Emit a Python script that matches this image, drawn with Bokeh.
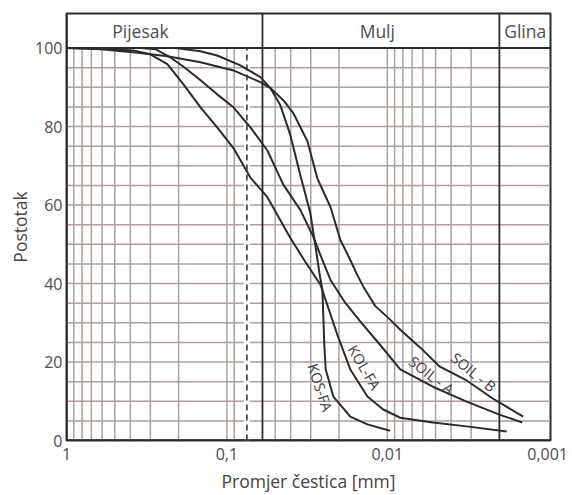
from bokeh.plotting import figure
from bokeh.models import Range1d, FixedTicker
from bokeh.core.properties import value
from bokeh.embed import file_html
from bokeh.resources import INLINE

# ---- data (particle diameter in mm, percent passing) ----
kol_fa_d = [1, 0.614, 0.383, 0.300, 0.235, 0.187, 0.146, 0.115, 0.091, 0.0714, 0.0559, 0.0402,
            0.0324, 0.0261, 0.0205, 0.0170, 0.0133, 0.0106, 0.0083, 0.0052, 0.0032, 0.0018]
kol_fa_p = [100, 99.9, 99.4, 98.4, 95.9, 90.8, 84.9, 79.8, 74.5, 67.0, 62.0, 51.6,
            45.5, 39.7, 27.0, 18.1, 11.2, 7.9, 5.8, 4.6, 3.6, 2.3]

soil_a_d = [1, 0.346, 0.279, 0.225, 0.187, 0.146, 0.115, 0.091, 0.0714, 0.0559, 0.0445, 0.0348,
            0.0289, 0.0254, 0.0226, 0.0183, 0.0147, 0.0111, 0.0083, 0.0052, 0.0032, 0.0020, 0.00144]
soil_a_p = [100, 100, 99.7, 97.6, 95.3, 91.8, 88.2, 84.9, 79.8, 73.9, 65.2, 58.7,
            51.9, 46.0, 40.9, 35.1, 30.3, 24.4, 18.1, 13.7, 9.9, 6.6, 4.6]

kos_fa_d = [1, 0.209, 0.146, 0.115, 0.0824, 0.0618, 0.0536, 0.0464, 0.0402, 0.0348, 0.0302,
            0.0281, 0.0265, 0.0254, 0.0250, 0.0247, 0.0242, 0.0217, 0.0170, 0.0133, 0.0096]
kos_fa_p = [100, 100, 99.2, 98.1, 95.6, 92.6, 89.8, 85.4, 77.8, 67.5, 58.0,
            49.8, 42.7, 38.4, 30.8, 24.4, 18.1, 11.2, 6.1, 4.1, 2.5]

soil_b_d = [1, 0.614, 0.383, 0.235, 0.146, 0.091, 0.0618, 0.0536, 0.0445, 0.0385, 0.0315, 0.0273,
            0.0226, 0.0196, 0.0170, 0.0154, 0.0141, 0.0119, 0.0096, 0.0083, 0.0062, 0.0047, 0.0032,
            0.0022, 0.00142]
soil_b_p = [100, 99.7, 98.9, 97.9, 96.4, 94.3, 91.3, 89.8, 86.7, 83.4, 76.3, 66.8,
            59.5, 51.1, 46.0, 42.2, 39.2, 34.3, 30.8, 28.2, 23.6, 18.8, 15.3, 10.7, 6.1]

series_names = ["KOS-FA", "KOL-FA", "SOIL - A", "SOIL - B"]

x_ticks = [1, 0.1, 0.01, 0.001]
x_tick_labels = ["1", "0,1", "0,01", "0,001"]
y_ticks = [0, 20, 40, 60, 80, 100]

v_grid = [0.9, 0.8, 0.7, 0.6, 0.5, 0.4, 0.3, 0.2, 0.1, 0.09, 0.05, 0.04, 0.03, 0.02,
          0.01, 0.009, 0.008, 0.007, 0.006, 0.005, 0.004, 0.003]
h_grid = [5, 10, 15, 20, 25, 30, 35, 40, 45, 50, 55, 60, 65, 70, 75, 80, 85, 90, 95]

zone_names = ["Pijesak", "Mulj", "Glina"]
zone_bounds = [0.06, 0.002]        # sand/silt, silt/clay (mm)
sieve_line = 0.075                 # dashed line (mm)

X0, X1 = 1, 0.00096
Y0, Y1 = 0, 108.8
FONT = "Open Sans"
TXT = "#4d4d4d"
GRID = "#ad9f9d"
DARK = "#2b2b2b"

p = figure(width=572, height=495, x_axis_type="log",
           x_range=Range1d(X0, X1), y_range=Range1d(Y0, Y1),
           output_backend="svg", toolbar_location=None,
           min_border_left=66, min_border_right=22, min_border_top=13, min_border_bottom=54)
p.xgrid.grid_line_color = None
p.ygrid.grid_line_color = None
p.outline_line_color = DARK
p.outline_line_width = 2
p.background_fill_color = "white"
p.border_fill_color = "white"

# grid
p.segment(x0=v_grid, y0=[0] * len(v_grid), x1=v_grid, y1=[100] * len(v_grid),
          line_color=GRID, line_width=1.5)
p.segment(x0=[X0] * len(h_grid), y0=h_grid, x1=[X1] * len(h_grid), y1=h_grid,
          line_color=GRID, line_width=1.5)

# dashed sieve line with white halo
p.segment(x0=[sieve_line], y0=[0], x1=[sieve_line], y1=[100], line_color="white", line_width=6)
p.segment(x0=[sieve_line], y0=[0], x1=[sieve_line], y1=[100], line_color=DARK,
          line_width=1.5, line_dash="6 4")

# header band
p.segment(x0=[X0], y0=[100], x1=[X1], y1=[100], line_color=DARK, line_width=2)
p.segment(x0=zone_bounds, y0=[0, 0], x1=zone_bounds, y1=[Y1, Y1], line_color=DARK, line_width=1.8)
zone_x = [0.346, 0.01154, 0.00138]
p.text(x=zone_x, y=[104.4] * 3, text=zone_names, text_align="center", text_baseline="middle",
       text_font=value(FONT), text_font_size="17.5px", text_color=TXT)

# axes frame lines
p.segment(x0=[X0], y0=[0], x1=[X1], y1=[0], line_color=DARK, line_width=2.5)
p.segment(x0=[X0], y0=[0], x1=[X0], y1=[Y1], line_color=DARK, line_width=2.5)

# curves
for d, pp in [(kos_fa_d, kos_fa_p), (kol_fa_d, kol_fa_p), (soil_a_d, soil_a_p), (soil_b_d, soil_b_p)]:
    p.line(d, pp, line_color=DARK, line_width=2, line_join="round")

# curve labels
lab_x = [0.0262, 0.0139, 0.0053, 0.0029]
lab_y = [13.5, 18.6, 16.6, 17.4]
lab_a = [-1.25, -1.05, -0.66, -0.68]
p.text(x=lab_x, y=lab_y, text=series_names, angle=lab_a, text_align="center",
       text_baseline="middle", text_font=value(FONT), text_font_size="14.5px", text_color="#404040")

# axes
p.xaxis.ticker = FixedTicker(ticks=x_ticks)
p.xaxis.major_label_overrides = {t: l for t, l in zip(x_ticks, x_tick_labels)}
p.yaxis.ticker = FixedTicker(ticks=y_ticks)
for ax in (p.xaxis, p.yaxis):
    ax.axis_line_color = None
    ax.major_tick_line_color = None
    ax.minor_tick_line_color = None
    ax.major_tick_out = 0
    ax.major_tick_in = 0
    ax.minor_tick_out = 0
    ax.minor_tick_in = 0
    ax.major_label_text_font = FONT
    ax.major_label_text_font_size = "16px"
    ax.major_label_text_color = TXT
    ax.axis_label_text_font = FONT
    ax.axis_label_text_font_size = "17.5px"
    ax.axis_label_text_font_style = "normal"
    ax.axis_label_text_color = "#444444"
p.xaxis.axis_label = "Promjer čestica [mm]"
p.yaxis.axis_label = "Postotak"
p.xaxis.major_label_standoff = 7
p.xaxis.axis_label_standoff = 6
p.yaxis.major_label_standoff = 4
p.yaxis.axis_label_standoff = 0

open("out.html", "w").write(file_html(p, INLINE))
